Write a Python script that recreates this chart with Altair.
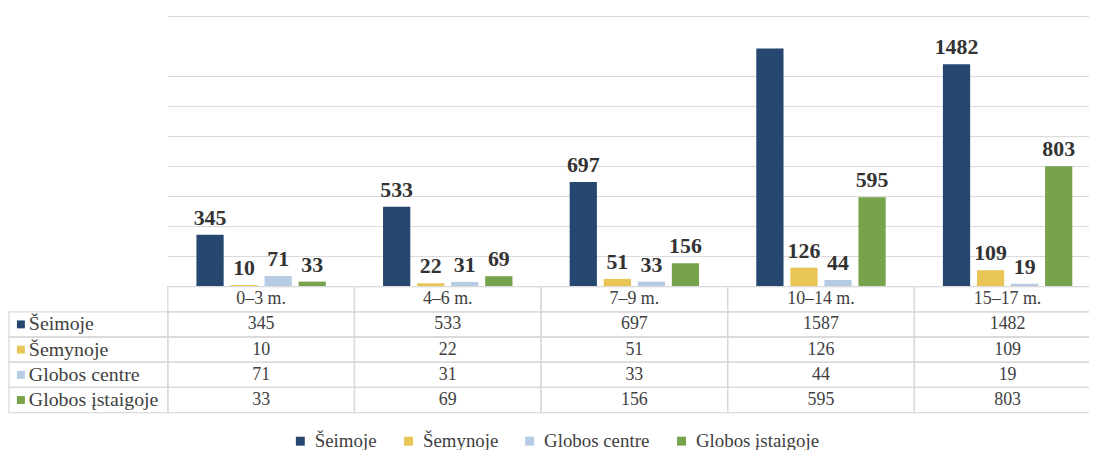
import altair as alt
import pandas as pd

categories = ["0–3 m.", "4–6 m.", "7–9 m.", "10–14 m.", "15–17 m."]
series = ["Šeimoje", "Šemynoje", "Globos centre", "Globos įstaigoje"]
seimoje = [345, 533, 697, 1587, 1482]
semynoje = [10, 22, 51, 126, 109]
globos_centre = [71, 31, 33, 44, 19]
globos_istaigoje = [33, 69, 156, 595, 803]
colors = ["#264870", "#e8c555", "#b8cbe5", "#76a34b"]
grid_values = [0, 200, 400, 600, 800, 1000, 1200, 1400, 1800]
header_key = " "
rows = [header_key] + series

values_by_series = [seimoje, semynoje, globos_centre, globos_istaigoje]
records = []
for s, vals in zip(series, values_by_series):
    for c, v in zip(categories, vals):
        records.append({"category": c, "series": s, "value": v, "row": s, "txt": str(v)})
df = pd.DataFrame(records)

header_df = pd.DataFrame({"category": categories, "row": header_key, "txt": categories})
cells_df = pd.concat([df[["category", "row", "txt"]], header_df], ignore_index=True)
label_df = pd.DataFrame({"series": series, "row": series})

FONT = "Liberation Serif"
TXT = "#404040"
LINE = "#d9d9d9"

x_enc = alt.X("category:N", sort=categories,
              scale=alt.Scale(domain=categories, range=[0, 940],
                              paddingInner=0, paddingOuter=0),
              axis=None)
xoff = alt.XOffset("series:N", sort=series,
                   scale=alt.Scale(domain=series, paddingInner=0.2, paddingOuter=0.84))
y_val = alt.Y("value:Q", scale=alt.Scale(domain=[0, 1800], nice=False), axis=None)
y_row = alt.Y("row:N", sort=rows,
              scale=alt.Scale(domain=rows, range=[272, 399], paddingInner=0, paddingOuter=0),
              axis=None)
color = alt.Color("series:N", sort=series, scale=alt.Scale(domain=series, range=colors),
                  legend=alt.Legend(title=None, orient="none", legendX=124, legendY=418,
                                    direction="horizontal", symbolType="square",
                                    symbolSize=81, symbolStrokeWidth=0, labelFont=FONT,
                                    labelFontSize=19, labelColor=TXT, labelOffset=5,
                                    columnPadding=22))

grid = alt.Chart(pd.DataFrame({"g": grid_values})).mark_rule(color=LINE, strokeWidth=1).encode(
    y=alt.Y("g:Q", scale=alt.Scale(domain=[0, 1800], nice=False), axis=None),
    x=alt.value(0), x2=alt.value(928))

bars = alt.Chart(df).mark_bar().encode(x=x_enc, xOffset=xoff, y=y_val, color=color)

labels = alt.Chart(df).transform_filter(
    "!(datum.category == '10–14 m.' && datum.series == 'Šeimoje')"
).mark_text(font=FONT, fontSize=22, fontWeight="bold", color="#333333",
            baseline="alphabetic", dy=-10).encode(
    x=x_enc, xOffset=xoff, y=y_val, text="value:Q")

cells = alt.Chart(cells_df).mark_rect(fill="white", fillOpacity=0, stroke=LINE, strokeWidth=1.3).encode(
    x=x_enc, y=y_row)

cell_text = alt.Chart(cells_df).mark_text(font=FONT, fontSize=18, color=TXT).encode(
    x=x_enc, y=y_row, text="txt:N")

label_cells = alt.Chart(label_df).mark_rect(fill="white", fillOpacity=0, stroke=LINE, strokeWidth=1.3).encode(
    x=alt.value(-160), x2=alt.value(0), y=y_row)

label_sq = alt.Chart(label_df).mark_square(size=64, opacity=1).encode(
    x=alt.value(-148), y=y_row, color=color)

label_text = alt.Chart(label_df).mark_text(font=FONT, fontSize=20, color=TXT, align="left").encode(
    x=alt.value(-140), y=y_row, text="series:N")

chart = alt.layer(grid, bars, labels, cells, cell_text, label_cells, label_sq, label_text).resolve_scale(
    y="independent"
).properties(
    width=928, height=272,
    padding={"left": 161, "top": 7, "right": 0, "bottom": 164},
    autosize=alt.AutoSizeParams(type="none"),
).configure_view(stroke=None)

chart.save("out.html", embed_options={"renderer": "svg", "actions": False})
